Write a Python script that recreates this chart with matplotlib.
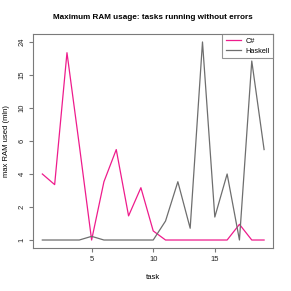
import matplotlib
matplotlib.use('Agg')
import matplotlib.pyplot as plt
import numpy as np

# max RAM usage per task (mln)
tasks = list(range(1, 20))
csharp = [4, 3.2, 20.6, 5.7, 1.0, 3.4, 5.4, 1.66, 3.0, 1.21,
          1, 1, 1, 1, 1, 1, 1.39, 1, 1]
haskell = [1, 1, 1, 1, 1.08, 1, 1, 1, 1, 1,
           1.49, 3.4, 1.28, 24, 1.62, 4, 1, 18.3, 5.4]
y_ticks = [1, 2, 4, 6, 10, 15, 24]
x_ticks = [5, 10, 15]

pink = '#ee1c8c'
grey = '#6e6e6e'
box = '#7a7a7a'

# y axis: tick values evenly spaced, log-interpolated in between
lt = np.log(y_ticks)
pos = np.arange(len(y_ticks), dtype=float)


def fwd(v):
    lv = np.log(np.clip(np.asarray(v, dtype=float), 1e-9, None))
    out = np.interp(lv, lt, pos)
    lo = lv < lt[0]
    hi = lv > lt[-1]
    out = np.where(lo, (lv - lt[0]) / (lt[1] - lt[0]), out)
    out = np.where(hi, pos[-1] + (lv - lt[-1]) / (lt[-1] - lt[-2]), out)
    return out


def inv(p):
    p = np.asarray(p, dtype=float)
    out = np.interp(p, pos, lt)
    out = np.where(p < 0, lt[0] + p * (lt[1] - lt[0]), out)
    out = np.where(p > pos[-1], lt[-1] + (p - pos[-1]) * (lt[-1] - lt[-2]), out)
    return np.exp(out)


plt.rcParams['font.family'] = ['Liberation Sans', 'DejaVu Sans']

fig = plt.figure(figsize=(2.91, 2.91), dpi=100)
ax = fig.add_axes([0.115, 0.148, 0.823, 0.735])

ax.plot(tasks, csharp, color=pink, lw=0.9, label='C#')
ax.plot(tasks, haskell, color=grey, lw=0.9, label='Haskell')

ax.set_yscale('function', functions=(fwd, inv))
ax.set_ylim(inv(-0.24), inv(6.24))
ax.set_xlim(1 - 0.72, 19 + 0.72)
ax.set_yticks(y_ticks)
ax.set_yticklabels([str(t) for t in y_ticks], rotation=90, va='center')
ax.yaxis.set_minor_locator(matplotlib.ticker.NullLocator())
ax.set_xticks(x_ticks)

for s in ax.spines.values():
    s.set_color(box)
    s.set_linewidth(0.8)
ax.tick_params(colors=box, labelcolor='#222222', labelsize=5.5, length=3, width=0.8, pad=2.5)

ax.set_title('Maximum RAM usage: tasks running without errors',
             fontsize=5.9, fontweight='bold', pad=11)
ax.set_xlabel('task', fontsize=5.5, labelpad=8)
ax.set_ylabel('max RAM used (mln)', fontsize=5.5, labelpad=6)

leg = ax.legend(loc='upper right', fontsize=5.3, frameon=True, fancybox=False,
                borderaxespad=0, handlelength=2.0, handletextpad=0.6,
                borderpad=0.5, labelspacing=0.35)
leg.get_frame().set_edgecolor(box)
leg.get_frame().set_linewidth(0.8)

fig.savefig('out.png', dpi=100)
